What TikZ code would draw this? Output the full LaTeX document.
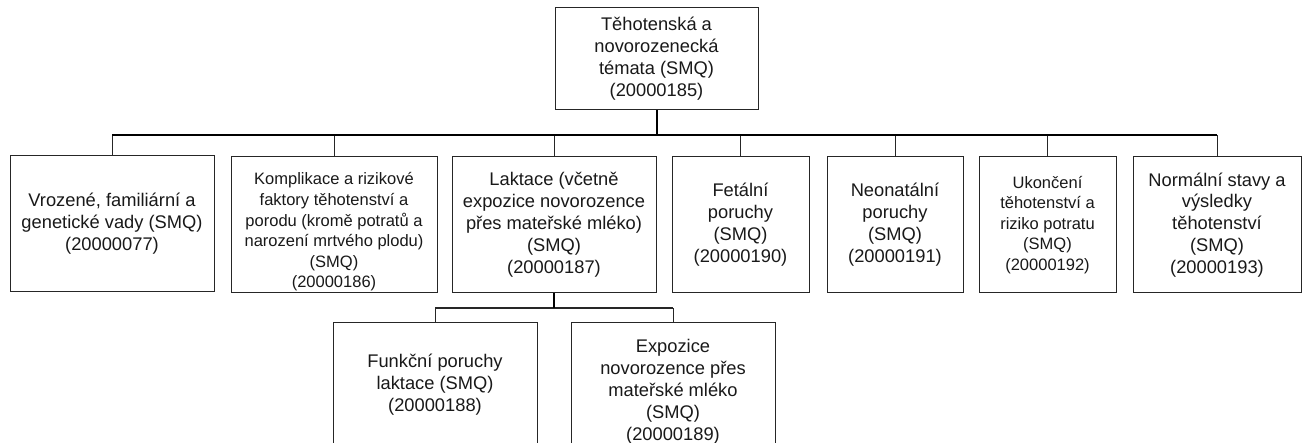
\documentclass[tikz,border=0pt]{standalone}
\usepackage{fontspec}
\setmainfont{Liberation Sans}
\begin{document}
\begin{tikzpicture}[x=1pt,y=-1pt,
  box/.style={draw=black!85, line width=1pt, fill=white, inner sep=0pt, align=center, text=black!90,
    font=\fontsize{18.3}{21.9}\selectfont},
  smallbox/.style={box, font=\fontsize{16.5}{20.6}\selectfont},
  txt/.style={inner sep=0pt, align=center, text=black!90, font=\fontsize{18.3}{21.9}\selectfont},
  smalltxt/.style={txt, font=\fontsize{16.5}{20.6}\selectfont},
  link/.style={draw=black!85, line width=1pt},
  stem/.style={draw=black, line width=2pt},
  bar/.style={draw=black, line width=1.6pt}]
\clip (0,0) rectangle (1302,443);
\fill[white] (0,0) rectangle (1302,443);
% top
\node[box, minimum width=203pt, minimum height=102pt] (top) at (656.5,59) {Těhotenská a\\novorozenecká\\témata (SMQ)\\(20000185)};
% row 1
\node[box, minimum width=204pt, minimum height=136pt] (b1) at (112,224) {Vrozené, familiární a\\genetické vady (SMQ)\\(20000077)};
\node[box, minimum width=206pt, minimum height=136pt] (b2) at (334,225) {};
\node[smalltxt] (b2t) at (334,232) {Komplikace a rizikové\\faktory těhotenství a\\porodu (kromě potratů a\\narození mrtvého plodu)\\(SMQ)\\(20000186)};
\node[box, minimum width=204pt, minimum height=136pt] (b3) at (554,225) {Laktace (včetně\\expozice novorozence\\přes mateřské mléko)\\(SMQ)\\(20000187)};
\node[box, minimum width=137pt, minimum height=136pt] (b4) at (740.5,225) {Fetální\\poruchy\\(SMQ)\\(20000190)};
\node[box, minimum width=136pt, minimum height=136pt] (b5) at (895,225) {Neonatální\\poruchy\\(SMQ)\\(20000191)};
\node[smallbox, minimum width=137pt, minimum height=136pt] (b6) at (1047.5,225) {Ukončení\\těhotenství a\\riziko potratu\\(SMQ)\\(20000192)};
\node[box, minimum width=168pt, minimum height=136pt] (b7) at (1217,225) {Normální stavy a\\výsledky\\těhotenství\\(SMQ)\\(20000193)};
% row 2
\node[box, minimum width=204pt, minimum height=137pt] (c1) at (435,391.5) {};
\node[txt] (c1t) at (435,385) {Funkční poruchy\\laktace (SMQ)\\(20000188)};
\node[box, minimum width=204pt, minimum height=137pt] (c2) at (673,391.5) {Expozice\\novorozence přes\\mateřské mléko\\(SMQ)\\(20000189)};
% bus levels
\coordinate (bus) at (0,135);
\coordinate (bus2) at (0,308);
% connectors level 1
\foreach \n in {b1,b2,b3,b4,b5,b6,b7}{
  \draw[link] (\n.north) -- (\n.north |- bus);
}
\draw[bar] (b1.north |- bus) -- (b7.north |- bus);
\draw[stem] (top.south) -- (top.south |- bus);
% connectors level 2
\draw[link] (c1.north) -- (c1.north |- bus2);
\draw[link] (c2.north) -- (c2.north |- bus2);
\draw[link, line width=1.4pt] (c1.north |- bus2) -- (c2.north |- bus2);
\draw[stem, line width=1.6pt] (b3.south) -- (b3.south |- bus2);
\end{tikzpicture}
\end{document}
